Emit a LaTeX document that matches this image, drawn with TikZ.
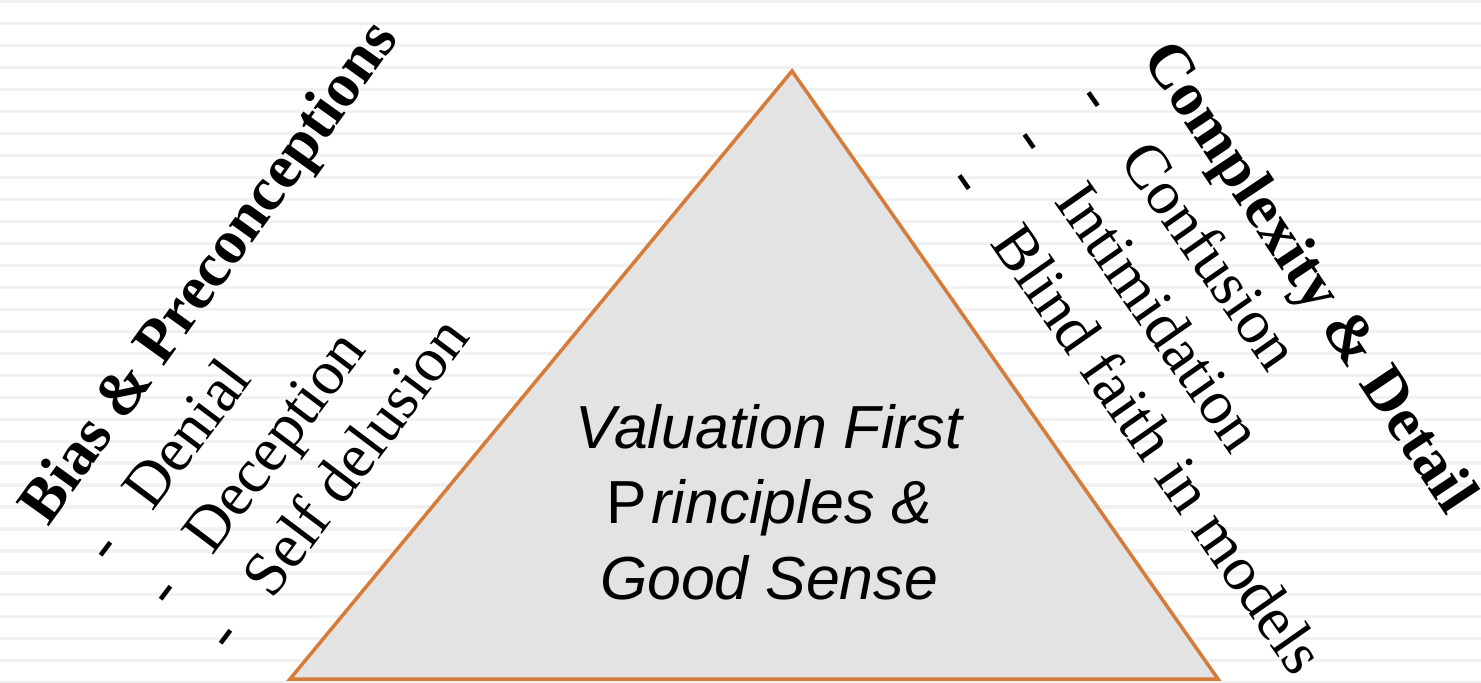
\documentclass[tikz,border=0pt]{standalone}
\usepackage{fontspec}
\setmainfont{Liberation Serif}
\setsansfont{Liberation Sans}
\definecolor{edgeorange}{RGB}{214,124,58}
\definecolor{trifill}{RGB}{227,227,227}
\definecolor{stripe}{RGB}{241,241,241}
\begin{document}
\begin{tikzpicture}[x=0.02cm,y=-0.02cm,
  sidetext/.style={anchor=base west,inner sep=0pt,font=\fontsize{35.7}{43}\selectfont},
  sidetitle/.style={sidetext,font=\fontsize{35.5}{43}\selectfont\bfseries}]
\useasboundingbox (0,0) rectangle (1481,683);

% Background stripes
\foreach \k in {0,...,31}
  \draw[stripe,line width=1.8pt] (0,{1.7+21.97*\k}) -- (1481,{1.7+21.97*\k});

% Triangle
\coordinate (left) at (290,679);
\coordinate (apex) at (792,71);
\coordinate (right) at (1218,679);
\draw[fill=trifill,draw=edgeorange,line width=2pt,line join=miter] (left) -- (apex) -- (right) -- cycle;

% Centre text
\node[align=center,inner sep=0pt,font=\fontsize{34.6}{43}\selectfont\sffamily\itshape] (principles) at (769,502)
  {Valuation First\\{\upshape P}\kern0.08em rinciples \&\\Good Sense};

% Left side
\node[sidetitle,rotate=54.3] (bias) at (48,528) {Bias \& Preconceptions};
\foreach \word [count=\i] in {Denial,Deception,Self delusion}
  \node[sidetext,rotate=53] (bias\i) at ({48+60*\i},{528+44*\i}) {\makebox[1.18em][l]{\kern0.1em-}\word};

% Right side
\node[sidetitle,rotate=-56.3] (cplx) at (1141,58) {Complexity \& Detail};
\foreach \word [count=\i] in {Confusion,Intimidation,Blind faith in models}
  \node[sidetext,rotate=-55] (cplx\i) at ({1140-64.5*\i},{58+41.5*\i}) {\makebox[1.18em][l]{-}\word};
\end{tikzpicture}
\end{document}
